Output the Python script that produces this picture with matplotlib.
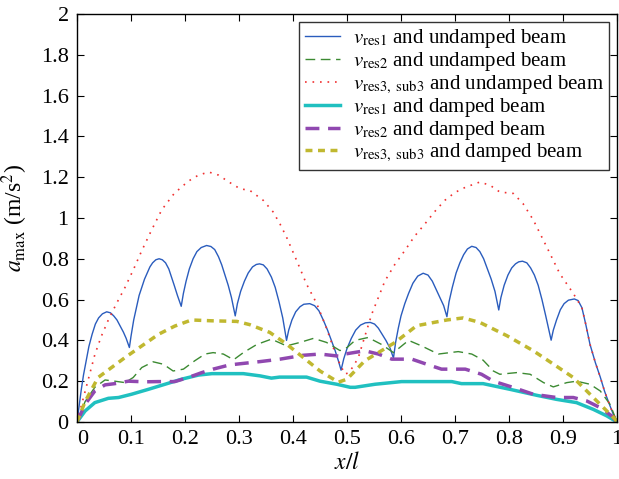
import numpy as np
import matplotlib.pyplot as plt

plt.rcParams['font.family'] = ['Liberation Serif', 'DejaVu Serif']
plt.rcParams['mathtext.fontset'] = 'stix'

# v_res1, undamped beam
x_u1 = [0, 0.004, 0.008, 0.012, 0.017, 0.022, 0.028, 0.034, 0.04, 0.047, 0.055,
        0.062, 0.068, 0.074, 0.08, 0.086, 0.091, 0.097,
        0.10, 0.105, 0.11, 0.115, 0.12, 0.125, 0.13, 0.135, 0.14, 0.146, 0.152,
        0.158, 0.164, 0.17, 0.175, 0.18, 0.186, 0.193,
        0.197, 0.202, 0.208, 0.215, 0.222, 0.23, 0.24, 0.248, 0.255, 0.262,
        0.268, 0.274, 0.28, 0.286, 0.293,
        0.297, 0.303, 0.31, 0.317, 0.325, 0.332, 0.338, 0.345, 0.352, 0.36,
        0.367, 0.374, 0.381, 0.388,
        0.392, 0.398, 0.405, 0.413, 0.42, 0.431, 0.44, 0.448, 0.456, 0.464,
        0.471, 0.478, 0.484, 0.489,
        0.494, 0.50, 0.508, 0.516, 0.525, 0.534, 0.543, 0.551, 0.558, 0.565,
        0.572, 0.58, 0.586,
        0.59, 0.595, 0.60, 0.607, 0.614, 0.622, 0.631, 0.641, 0.65, 0.658,
        0.665, 0.672, 0.679, 0.685,
        0.689, 0.695, 0.702, 0.709, 0.716, 0.723, 0.731, 0.739, 0.746, 0.753,
        0.76, 0.767, 0.774, 0.781,
        0.785, 0.791, 0.798, 0.805, 0.812, 0.818, 0.825, 0.833, 0.84, 0.847,
        0.854, 0.861, 0.868, 0.873, 0.878,
        0.882, 0.888, 0.895, 0.902, 0.91, 0.921, 0.928, 0.935, 0.942, 0.95,
        0.96, 0.969, 0.977, 0.984, 0.992, 1.0]
y_u1 = [0, 0.08, 0.16, 0.23, 0.30, 0.37, 0.43, 0.48, 0.51, 0.53, 0.54,
        0.535, 0.52, 0.50, 0.47, 0.44, 0.41, 0.365,
        0.42, 0.50, 0.56, 0.62, 0.66, 0.70, 0.73, 0.76, 0.78, 0.795, 0.80,
        0.795, 0.78, 0.75, 0.71, 0.67, 0.62, 0.567,
        0.63, 0.69, 0.75, 0.80, 0.835, 0.855, 0.865, 0.86, 0.845, 0.81,
        0.77, 0.72, 0.67, 0.61, 0.52,
        0.58, 0.64, 0.69, 0.73, 0.76, 0.772, 0.775, 0.77, 0.75, 0.71,
        0.66, 0.59, 0.51, 0.40,
        0.45, 0.50, 0.54, 0.565, 0.577, 0.58, 0.57, 0.545, 0.50, 0.45,
        0.40, 0.35, 0.30, 0.254,
        0.31, 0.36, 0.41, 0.45, 0.475, 0.486, 0.488, 0.48, 0.46, 0.43,
        0.40, 0.36, 0.313,
        0.39, 0.46, 0.52, 0.58, 0.63, 0.68, 0.715, 0.729, 0.72, 0.69,
        0.65, 0.61, 0.57, 0.516,
        0.59, 0.66, 0.73, 0.78, 0.82, 0.848, 0.861, 0.855, 0.835, 0.80,
        0.75, 0.70, 0.64, 0.549,
        0.61, 0.67, 0.72, 0.755, 0.775, 0.785, 0.788, 0.78, 0.755, 0.72,
        0.67, 0.60, 0.52, 0.46, 0.401,
        0.45, 0.50, 0.55, 0.58, 0.597, 0.603, 0.595, 0.56, 0.48, 0.38,
        0.29, 0.22, 0.15, 0.10, 0.045, 0.0]

# v_res2, undamped beam
x_u2 = [0, 0.015, 0.033, 0.052, 0.070, 0.089, 0.104, 0.12, 0.141, 0.16, 0.178,
        0.197, 0.218, 0.237, 0.252, 0.271, 0.29, 0.308, 0.333, 0.36, 0.388,
        0.413, 0.438, 0.462, 0.487, 0.50, 0.515, 0.539, 0.564, 0.586, 0.614,
        0.638, 0.669, 0.706, 0.731, 0.752, 0.771, 0.783, 0.814, 0.839, 0.864,
        0.882, 0.907, 0.925, 0.95, 0.969, 0.987, 1.0]
y_u2 = [0, 0.10, 0.17, 0.206, 0.20, 0.193, 0.218, 0.267, 0.295, 0.283, 0.25,
        0.259, 0.30, 0.333, 0.34, 0.333, 0.305, 0.34, 0.38, 0.406, 0.373,
        0.39, 0.41, 0.39, 0.35, 0.365, 0.40, 0.414, 0.38, 0.34, 0.40,
        0.373, 0.333, 0.345, 0.333, 0.303, 0.25, 0.234, 0.242, 0.234, 0.193,
        0.172, 0.193, 0.20, 0.185, 0.152, 0.087, 0.0]

# v_res3, sub3, undamped beam
x_u3 = [0, 0.005, 0.015, 0.024, 0.033, 0.045, 0.058, 0.073, 0.089, 0.105, 0.12,
        0.138, 0.157, 0.18, 0.206, 0.225, 0.244, 0.262, 0.282,
        0.302, 0.32, 0.345, 0.363, 0.376, 0.388, 0.407, 0.425, 0.444, 0.462, 0.481,
        0.496, 0.502, 0.511, 0.521, 0.533, 0.546, 0.57, 0.588, 0.607, 0.625, 0.644,
        0.662, 0.681, 0.70, 0.719, 0.746, 0.765,
        0.783, 0.808, 0.826, 0.845, 0.87, 0.894, 0.919, 0.935, 0.942, 0.95, 0.96, 0.969,
        0.977, 0.984, 0.992, 1.0]
y_u3 = [0, 0.05, 0.15, 0.24, 0.33, 0.42, 0.50, 0.58, 0.66, 0.75, 0.84,
        0.94, 1.04, 1.12, 1.18, 1.21, 1.225, 1.21, 1.175,
        1.143, 1.135, 1.086, 1.03, 0.97, 0.906, 0.79, 0.676, 0.58, 0.46, 0.316,
        0.235, 0.24, 0.27, 0.316, 0.42, 0.53, 0.69, 0.77, 0.84, 0.91, 0.97,
        1.03, 1.086, 1.125, 1.15, 1.176, 1.16,
        1.127, 1.12, 1.07, 0.99, 0.857, 0.727, 0.63, 0.56, 0.48, 0.38, 0.29, 0.22,
        0.15, 0.10, 0.045, 0.0]

# v_res1, damped beam
x_d1 = [0, 0.015, 0.033, 0.058, 0.077, 0.101, 0.132, 0.163, 0.194, 0.225,
        0.25, 0.308, 0.339, 0.36, 0.375, 0.425, 0.45, 0.481, 0.506, 0.515,
        0.552, 0.601, 0.694, 0.712, 0.752, 0.802, 0.851, 0.888, 0.925, 0.956,
        0.981, 1.0]
y_d1 = [0, 0.054, 0.095, 0.116, 0.12, 0.136, 0.16, 0.185, 0.21, 0.23,
        0.237, 0.237, 0.226, 0.215, 0.22, 0.22, 0.20, 0.185, 0.17, 0.17,
        0.185, 0.198, 0.198, 0.188, 0.188, 0.16, 0.131, 0.111, 0.095, 0.062,
        0.03, 0.0]

# v_res2, damped beam
x_d2 = [0, 0.015, 0.033, 0.052, 0.07, 0.095, 0.126, 0.151, 0.181, 0.206,
        0.231, 0.252, 0.283, 0.339, 0.376, 0.419, 0.45, 0.487, 0.496, 0.533,
        0.558, 0.583, 0.62, 0.651, 0.675, 0.719, 0.749, 0.771, 0.808, 0.845,
        0.888, 0.919, 0.944, 0.969, 0.99, 1.0]
y_d2 = [0, 0.087, 0.152, 0.182, 0.188, 0.20, 0.197, 0.198, 0.198, 0.218,
        0.242, 0.259, 0.28, 0.296, 0.308, 0.327, 0.333, 0.322, 0.333, 0.349,
        0.333, 0.308, 0.308, 0.28, 0.259, 0.259, 0.234, 0.20, 0.169, 0.136,
        0.12, 0.12, 0.103, 0.07, 0.03, 0.0]

# v_res3, sub3, damped beam
x_d3 = [0, 0.015, 0.039, 0.064, 0.089, 0.12, 0.151, 0.181, 0.212, 0.249,
        0.296, 0.32, 0.357, 0.388, 0.419, 0.45, 0.484, 0.50, 0.533, 0.589,
        0.629, 0.685, 0.715, 0.746, 0.796, 0.845, 0.882, 0.919, 0.95, 0.975,
        0.996, 1.0]
y_d3 = [0, 0.10, 0.218, 0.267, 0.316, 0.373, 0.43, 0.47, 0.50, 0.496,
        0.493, 0.477, 0.439, 0.382, 0.316, 0.25, 0.195, 0.21, 0.30, 0.39,
        0.472, 0.50, 0.51, 0.488, 0.423, 0.349, 0.284, 0.218, 0.136, 0.07,
        0.015, 0.0]

labels = [r'$v_{\mathrm{res1}}$ and undamped beam',
          r'$v_{\mathrm{res2}}$ and undamped beam',
          r'$v_{\mathrm{res3,\ sub3}}$ and undamped beam',
          r'$v_{\mathrm{res1}}$ and damped beam',
          r'$v_{\mathrm{res2}}$ and damped beam',
          r'$v_{\mathrm{res3,\ sub3}}$ and damped beam']

fig = plt.figure(figsize=(6.19, 4.79), dpi=100)
ax = fig.add_axes([0.1244, 0.119, 0.8724, 0.852])

ax.plot(x_u1, y_u1, color='#2a5cbd', lw=1.0, label=labels[0])
ax.plot(x_u2, y_u2, color='#3c8a32', lw=1.0, ls=(0, (7, 4)), label=labels[1])
ax.plot(x_u3, y_u3, color='#f03030', lw=1.2, ls=(0, (1, 3.5)), label=labels[2])
ax.plot(x_d1, y_d1, color='#20c0c0', lw=2.5, label=labels[3])
ax.plot(x_d2, y_d2, color='#9048b0', lw=2.5, ls=(0, (4, 2.5)), label=labels[4])
ax.plot(x_d3, y_d3, color='#c0b830', lw=2.5, ls=(0, (2, 1.6)), label=labels[5])

ax.set_xlim(0, 1)
ax.set_ylim(0, 2)
ax.set_xticks(np.arange(0, 1.01, 0.1))
ax.set_xticklabels(['0', '0.1', '0.2', '0.3', '0.4', '0.5', '0.6', '0.7', '0.8', '0.9', '1'])
ax.set_yticks(np.arange(0, 2.01, 0.2))
ax.set_yticklabels(['0', '0.2', '0.4', '0.6', '0.8', '1', '1.2', '1.4', '1.6', '1.8', '2'])
ax.tick_params(direction='in', top=True, right=True, labelsize=16, length=5, pad=6)
ax.get_xticklabels()[0].set_ha('left')
for s in ax.spines.values():
    s.set_linewidth(1.0)

ax.set_xlabel(r'$x/l$', fontsize=17, labelpad=2)
ax.set_ylabel(r'$a_{\max}$ (m/s$^2$)', fontsize=17, labelpad=8)

leg = ax.legend(loc='upper right', fontsize=15, frameon=True, fancybox=False,
                edgecolor='black', borderaxespad=0.4, handlelength=1.7,
                labelspacing=0.0, borderpad=0.25, handletextpad=0.6)
leg.get_frame().set_linewidth(1.0)

fig.savefig('out.png', dpi=100)
